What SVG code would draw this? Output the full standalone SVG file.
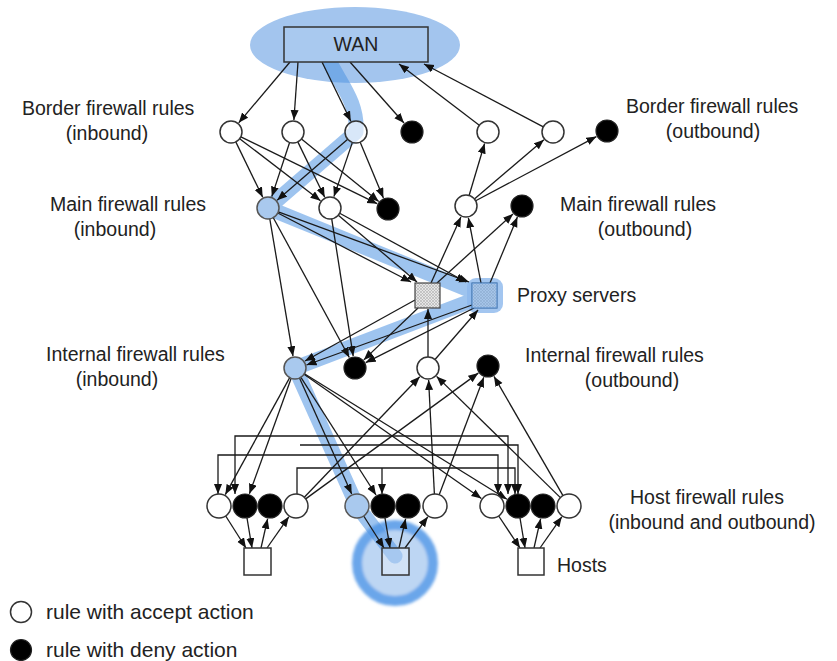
<svg xmlns="http://www.w3.org/2000/svg" width="837" height="661" viewBox="0 0 837 661">
  <defs>
    <marker id="arr" markerUnits="userSpaceOnUse" markerWidth="11" markerHeight="9" refX="10" refY="4" orient="auto-start-reverse">
      <path d="M0,0 L10,4 L0,8 z" fill="#111"/>
    </marker>
    <pattern id="grain" patternUnits="userSpaceOnUse" width="3" height="3">
      <rect width="3" height="3" fill="#e6e6e6"/>
      <circle cx="1" cy="1" r="0.7" fill="#8a8a8a"/>
      <circle cx="2.5" cy="2.4" r="0.5" fill="#a8a8a8"/>
    </pattern>
    <filter id="soft" x="-20%" y="-20%" width="140%" height="140%">
      <feGaussianBlur stdDeviation="1.8"/>
    </filter>
  </defs>
  <style>
    .e { stroke: #1a1a1a; stroke-width: 1.3; fill: none; marker-end: url(#arr); }
    .bus { stroke: #1a1a1a; stroke-width: 1.3; fill: none; }
    .open { fill: #fff; stroke: #333; stroke-width: 1.5; }
    .deny { fill: #000; stroke: #222; stroke-width: 1.2; }
    .sel { fill: #a9c9ee; stroke: #555; stroke-width: 1.5; }
    .host { fill: #fff; stroke: #333; stroke-width: 1.5; }
    .lbl { font-family: "Liberation Sans", Arial, sans-serif; font-size: 19.5px; fill: #222; }
    .leg { font-family: "Liberation Sans", Arial, sans-serif; font-size: 21px; fill: #222; }
    .mid { text-anchor: middle; }
  </style>
  <rect width="837" height="661" fill="#fff"/>

  <!-- highlighted route -->
  <g id="route">
    <ellipse cx="355" cy="45" rx="105" ry="38" fill="#a3c5ee"/>
    <circle cx="395" cy="563" r="38" fill="#bdd6f3" stroke="#6ba6ea" stroke-width="10" filter="url(#soft)"/>
    <path d="M328,58 C338,82 358,100 356,132 L268,208 L484,296 L295,368 L357,506 L395,556" fill="none" stroke="#4f93e2" stroke-opacity="0.55" stroke-width="15" stroke-linecap="round" stroke-linejoin="round"/>
    <rect x="467" y="278" width="36" height="35" rx="9" fill="#8cb8ec" opacity="0.8"/>
  </g>

  <!-- connectors -->
  <g id="edges">
    <!-- WAN and border rules -->
    <line class="e" x1="290" y1="62" x2="238.7" y2="122.8"/>
    <line class="e" x1="298" y1="62" x2="293.9" y2="120"/>
    <line class="e" x1="322" y1="62" x2="350.8" y2="121.2"/>
    <line class="e" x1="350" y1="62" x2="404" y2="123"/>
    <line class="e" x1="479.3" y1="125.3" x2="399" y2="64"/>
    <line class="e" x1="543.3" y1="126.8" x2="424" y2="64"/>
    <!-- border inbound to main inbound -->
    <line class="e" x1="235.8" y1="141.9" x2="262.7" y2="197.2"/>
    <line class="e" x1="239.7" y1="138.7" x2="320.5" y2="200.7"/>
    <line class="e" x1="240.9" y1="136.8" x2="377.2" y2="203.7"/>
    <line class="e" x1="289.6" y1="142.5" x2="271.8" y2="196.6"/>
    <line class="e" x1="297.8" y1="141.9" x2="324.7" y2="197.2"/>
    <line class="e" x1="301.5" y1="138.9" x2="378.7" y2="201.4"/>
    <line class="e" x1="347.7" y1="139.2" x2="277.1" y2="200.2"/>
    <line class="e" x1="352.4" y1="142.4" x2="333.9" y2="196.6"/>
    <line class="e" x1="360.2" y1="142.2" x2="383.4" y2="197.9"/>
    <!-- main outbound to border outbound -->
    <line class="e" x1="469.1" y1="195.5" x2="484.6" y2="143.5"/>
    <line class="e" x1="474.4" y1="198.9" x2="543.9" y2="139.8"/>
    <line class="e" x1="475.7" y1="200.8" x2="596.4" y2="136.6"/>
    <!-- proxies to main outbound -->
    <line class="e" x1="431" y1="283" x2="460.9" y2="216.9"/>
    <line class="e" x1="437" y1="283" x2="513" y2="214"/>
    <line class="e" x1="481" y1="283" x2="468.4" y2="217.8"/>
    <line class="e" x1="490" y1="283" x2="517.4" y2="217.1"/>
    <!-- main inbound to proxies -->
    <line class="e" x1="277.8" y1="213" x2="411" y2="282"/>
    <line class="e" x1="278.3" y1="211.8" x2="469" y2="282"/>
    <line class="e" x1="338.3" y1="215.2" x2="417" y2="282"/>
    <line class="e" x1="339.7" y1="213.2" x2="466" y2="282"/>
    <!-- main inbound to internal inbound -->
    <line class="e" x1="269.8" y1="218.8" x2="293" y2="356.2"/>
    <line class="e" x1="273.3" y1="217.7" x2="349.3" y2="357.5"/>
    <line class="e" x1="331.7" y1="218.9" x2="353.2" y2="356.1"/>
    <!-- proxies to internal inbound -->
    <line class="e" x1="415" y1="300" x2="305" y2="361"/>
    <line class="e" x1="472" y1="305" x2="306.5" y2="365"/>
    <line class="e" x1="418" y1="308" x2="363.8" y2="359.9"/>
    <line class="e" x1="474" y1="308" x2="365.7" y2="362.6"/>
    <!-- internal outbound to proxies -->
    <line class="e" x1="428" y1="357" x2="428" y2="309"/>
    <line class="e" x1="435" y1="359.5" x2="478" y2="310"/>
    <!-- internal inbound to host rules -->
    <line class="e" x1="289.7" y1="377.6" x2="225.3" y2="494.6"/>
    <line class="e" x1="291.2" y1="378.3" x2="249.4" y2="493.8"/>
    <line class="e" x1="299.5" y1="378" x2="351.7" y2="494.1"/>
    <line class="e" x1="300.9" y1="377.3" x2="376" y2="495"/>
    <line class="e" x1="304" y1="374.3" x2="481.4" y2="498.5"/>
    <line class="e" x1="304.4" y1="373.8" x2="506.9" y2="499.2"/>
    <!-- host outbound to internal outbound -->
    <line class="e" x1="304.3" y1="497.3" x2="419.7" y2="376.7"/>
    <line class="e" x1="305.7" y1="498.9" x2="478.3" y2="373.1"/>
    <line class="e" x1="434.4" y1="494" x2="428.6" y2="380"/>
    <line class="e" x1="439.2" y1="494.8" x2="483.8" y2="377.2"/>
    <line class="e" x1="560.4" y1="497.6" x2="436.6" y2="376.4"/>
    <line class="e" x1="563" y1="495.6" x2="494" y2="376.4"/>
    <!-- host to host buses -->
    <path class="bus" d="M235,494 V436 H508 V494" marker-start="url(#arr)" marker-end="url(#arr)"/>
    <path class="bus" d="M300,445 H518 V494" marker-end="url(#arr)"/>
    <path class="bus" d="M218,494 V455 H498 V494" marker-start="url(#arr)" marker-end="url(#arr)"/>
    <path class="bus" d="M297,494 V468 H515 V494" marker-end="url(#arr)"/>
    <path class="e" d="M382,468 V494"/>
    <!-- host rules and hosts -->
    <line class="e" x1="225.7" y1="516" x2="246" y2="548"/>
    <line class="e" x1="247" y1="518" x2="252" y2="548"/>
    <line class="e" x1="261" y1="548" x2="267.6" y2="518.8"/>
    <line class="e" x1="267" y1="548" x2="288.8" y2="516.8"/>
    <line class="e" x1="363.7" y1="516" x2="384" y2="548"/>
    <line class="e" x1="385" y1="518" x2="390" y2="548"/>
    <line class="e" x1="399" y1="548" x2="405.6" y2="518.8"/>
    <line class="e" x1="405" y1="548" x2="427.8" y2="516.8"/>
    <line class="e" x1="498.7" y1="516" x2="520" y2="548"/>
    <line class="e" x1="520" y1="518" x2="525" y2="548"/>
    <line class="e" x1="534" y1="548" x2="540.6" y2="518.8"/>
    <line class="e" x1="540" y1="548" x2="561.8" y2="516.8"/>
  </g>

  <!-- nodes -->
  <g id="wan"><rect x="284" y="27" width="144" height="35" fill="#a9c9ef" stroke="#333" stroke-width="1.5"/><text class="lbl mid" x="356" y="51" fill="#333">WAN</text></g>

  <g id="border-in-1"><circle class="open" cx="231" cy="132" r="11"/></g>
  <g id="border-in-2"><circle class="open" cx="293" cy="132" r="11"/></g>
  <g id="border-in-3"><circle class="open" cx="356" cy="132" r="11" fill-opacity="0.6"/></g>
  <g id="border-in-4"><circle class="deny" cx="412" cy="132" r="11"/></g>
  <g id="border-out-1"><circle class="open" cx="488" cy="132" r="11"/></g>
  <g id="border-out-2"><circle class="open" cx="553" cy="132" r="11"/></g>
  <g id="border-out-3"><circle class="deny" cx="607" cy="131" r="11"/></g>

  <g id="main-in-1"><circle class="sel" cx="268" cy="208" r="11"/></g>
  <g id="main-in-2"><circle class="open" cx="330" cy="208" r="11"/></g>
  <g id="main-in-3"><circle class="deny" cx="388" cy="209" r="11"/></g>
  <g id="main-out-1"><circle class="open" cx="466" cy="206" r="11"/></g>
  <g id="main-out-2"><circle class="deny" cx="522" cy="206" r="11"/></g>

  <g id="proxy-1"><rect x="415" y="283" width="25" height="25" fill="url(#grain)" stroke="#444" stroke-width="1.2"/></g>
  <g id="proxy-2"><rect x="472" y="283" width="25" height="25" fill="url(#grain)" stroke="#3d6fa8" stroke-width="1.2"/><rect x="472" y="283" width="25" height="25" fill="#6fa8ea" opacity="0.55"/></g>

  <g id="internal-in-1"><circle class="sel" cx="295" cy="368" r="11"/></g>
  <g id="internal-in-2"><circle class="deny" cx="355" cy="368" r="11"/></g>
  <g id="internal-out-1"><circle class="open" cx="428" cy="368" r="11"/></g>
  <g id="internal-out-2"><circle class="deny" cx="488" cy="366" r="11"/></g>

  <g id="host-1-rules">
    <circle class="open" cx="219" cy="506" r="12"/><circle class="deny" cx="245" cy="506" r="12"/><circle class="deny" cx="270" cy="506" r="12"/><circle class="open" cx="296" cy="506" r="12"/>
  </g>
  <g id="host-2-rules">
    <circle class="sel" cx="357" cy="506" r="12"/><circle class="deny" cx="383" cy="506" r="12"/><circle class="deny" cx="408" cy="506" r="12"/><circle class="open" cx="435" cy="506" r="12"/>
  </g>
  <g id="host-3-rules">
    <circle class="open" cx="492" cy="506" r="12"/><circle class="deny" cx="518" cy="506" r="12"/><circle class="deny" cx="543" cy="506" r="12"/><circle class="open" cx="569" cy="506" r="12"/>
  </g>
  <g id="host-1"><rect class="host" x="244" y="548" width="27" height="27"/></g>
  <g id="host-2"><rect class="host" x="382" y="548" width="27" height="27" fill-opacity="0.3"/></g>
  <g id="host-3"><rect class="host" x="518" y="548" width="26" height="27"/></g>

  <!-- labels -->
  <g id="labels">
    <text class="lbl" x="22" y="115">Border firewall rules</text>
    <text class="lbl mid" x="107" y="140">(inbound)</text>
    <text class="lbl" x="50" y="211">Main firewall rules</text>
    <text class="lbl mid" x="115" y="236">(inbound)</text>
    <text class="lbl" x="46" y="361">Internal firewall rules</text>
    <text class="lbl mid" x="117" y="386">(inbound)</text>
    <text class="lbl" x="626" y="113">Border firewall rules</text>
    <text class="lbl mid" x="713" y="138">(outbound)</text>
    <text class="lbl" x="560" y="211">Main firewall rules</text>
    <text class="lbl mid" x="645" y="236">(outbound)</text>
    <text class="lbl" x="517" y="302">Proxy servers</text>
    <text class="lbl" x="525" y="362">Internal firewall rules</text>
    <text class="lbl mid" x="632" y="387">(outbound)</text>
    <text class="lbl" x="630" y="504">Host firewall rules</text>
    <text class="lbl mid" x="712" y="529">(inbound and outbound)</text>
    <text class="lbl" x="557" y="572">Hosts</text>
  </g>

  <!-- legend -->
  <g id="legend">
    <circle class="open" cx="21" cy="612" r="10.5"/>
    <text class="leg" x="46" y="619">rule with accept action</text>
    <circle class="deny" cx="21" cy="650" r="10.5"/>
    <text class="leg" x="46" y="657">rule with deny action</text>
  </g>
</svg>
